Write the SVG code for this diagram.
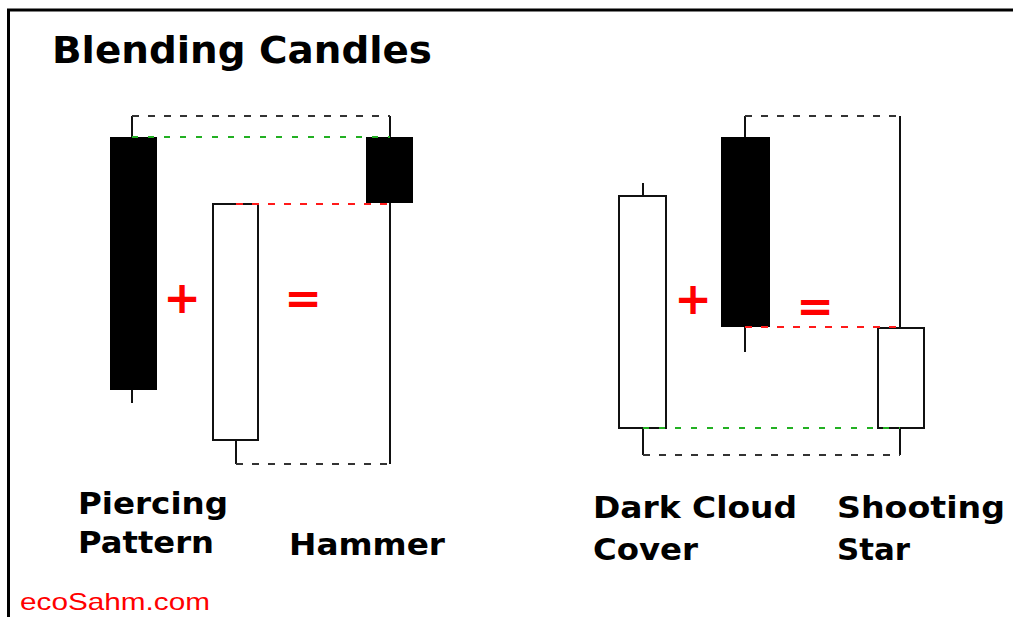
<svg xmlns="http://www.w3.org/2000/svg" width="1013" height="617" viewBox="0 0 1013 617">
<style>
.lbl{font-family:"DejaVu Sans",Verdana,sans-serif;font-weight:bold;fill:#000}
.op{font-family:"DejaVu Sans",sans-serif;font-weight:bold;fill:#ff0000;text-anchor:middle}
.wick{stroke:#111;stroke-width:2;fill:none}
.blk{fill:#000}
.wht{fill:#fff;stroke:#111;stroke-width:2}
.dk{stroke:#333;stroke-width:2;stroke-dasharray:7 9;fill:none}
.gr{stroke:#22b022;stroke-width:2;stroke-dasharray:6 10;fill:none}
.rd{stroke:#ff1a1a;stroke-width:2;stroke-dasharray:7 9;fill:none}
</style>
<rect x="0" y="0" width="1013" height="617" fill="#fff"/>
<path d="M8.5,617 V10 H1013" stroke="#000" stroke-width="3" fill="none"/>
<text class="lbl" x="52" y="63" font-size="38" textLength="380" lengthAdjust="spacingAndGlyphs">Blending Candles</text>

<g id="piercing-black">
<line class="wick" x1="132" y1="116" x2="132" y2="403"/>
<rect class="blk" x="110" y="137" width="47" height="253"/>
</g>
<g id="piercing-white">
<line class="wick" x1="236" y1="440" x2="236" y2="464"/>
<rect class="wht" x="213" y="204" width="45" height="236"/>
</g>
<g id="hammer">
<line class="wick" x1="390" y1="116" x2="390" y2="464"/>
<rect class="blk" x="366" y="137" width="47" height="66"/>
</g>
<g id="dcc-white">
<line class="wick" x1="643" y1="183" x2="643" y2="455"/>
<rect class="wht" x="619" y="196" width="47" height="232"/>
</g>
<g id="dcc-black">
<line class="wick" x1="745" y1="116" x2="745" y2="352"/>
<rect class="blk" x="721" y="137" width="49" height="190"/>
</g>
<g id="shooting-star">
<line class="wick" x1="900" y1="116" x2="900" y2="455"/>
<rect class="wht" x="878" y="328" width="46" height="100"/>
</g>

<g id="connectors">
<path class="dk" d="M132,116 H390"/>
<path class="dk" d="M236,464 H390"/>
<path class="gr" d="M132,137 H390"/>
<path class="rd" d="M236,204 H390"/>
<path class="dk" d="M745,116 H900"/>
<path class="dk" d="M643,455 H900"/>
<path class="rd" d="M745,327 H900"/>
<path class="gr" d="M643,428 H900"/>
</g>

<g id="operators">
<text class="op" x="182" y="313" font-size="45">+</text>
<text class="op" x="303" y="313" font-size="45">=</text>
<text class="op" x="693" y="314" font-size="45">+</text>
<text class="op" x="815" y="321" font-size="45">=</text>
</g>

<g id="labels">
<text class="lbl" x="78" y="514" font-size="30" textLength="150" lengthAdjust="spacingAndGlyphs">Piercing</text>
<text class="lbl" x="78" y="553" font-size="30" textLength="136" lengthAdjust="spacingAndGlyphs">Pattern</text>
<text class="lbl" x="289" y="555" font-size="30" textLength="156" lengthAdjust="spacingAndGlyphs">Hammer</text>
<text class="lbl" x="593" y="518" font-size="30" textLength="204" lengthAdjust="spacingAndGlyphs">Dark Cloud</text>
<text class="lbl" x="593" y="560" font-size="30" textLength="105" lengthAdjust="spacingAndGlyphs">Cover</text>
<text class="lbl" x="837" y="518" font-size="30" textLength="168" lengthAdjust="spacingAndGlyphs">Shooting</text>
<text class="lbl" x="837" y="560" font-size="30" textLength="73" lengthAdjust="spacingAndGlyphs">Star</text>
</g>
<text x="20" y="610" font-family="'Liberation Sans',Arial,sans-serif" font-size="24" fill="#ff0000" textLength="190" lengthAdjust="spacingAndGlyphs">ecoSahm.com</text>
</svg>
